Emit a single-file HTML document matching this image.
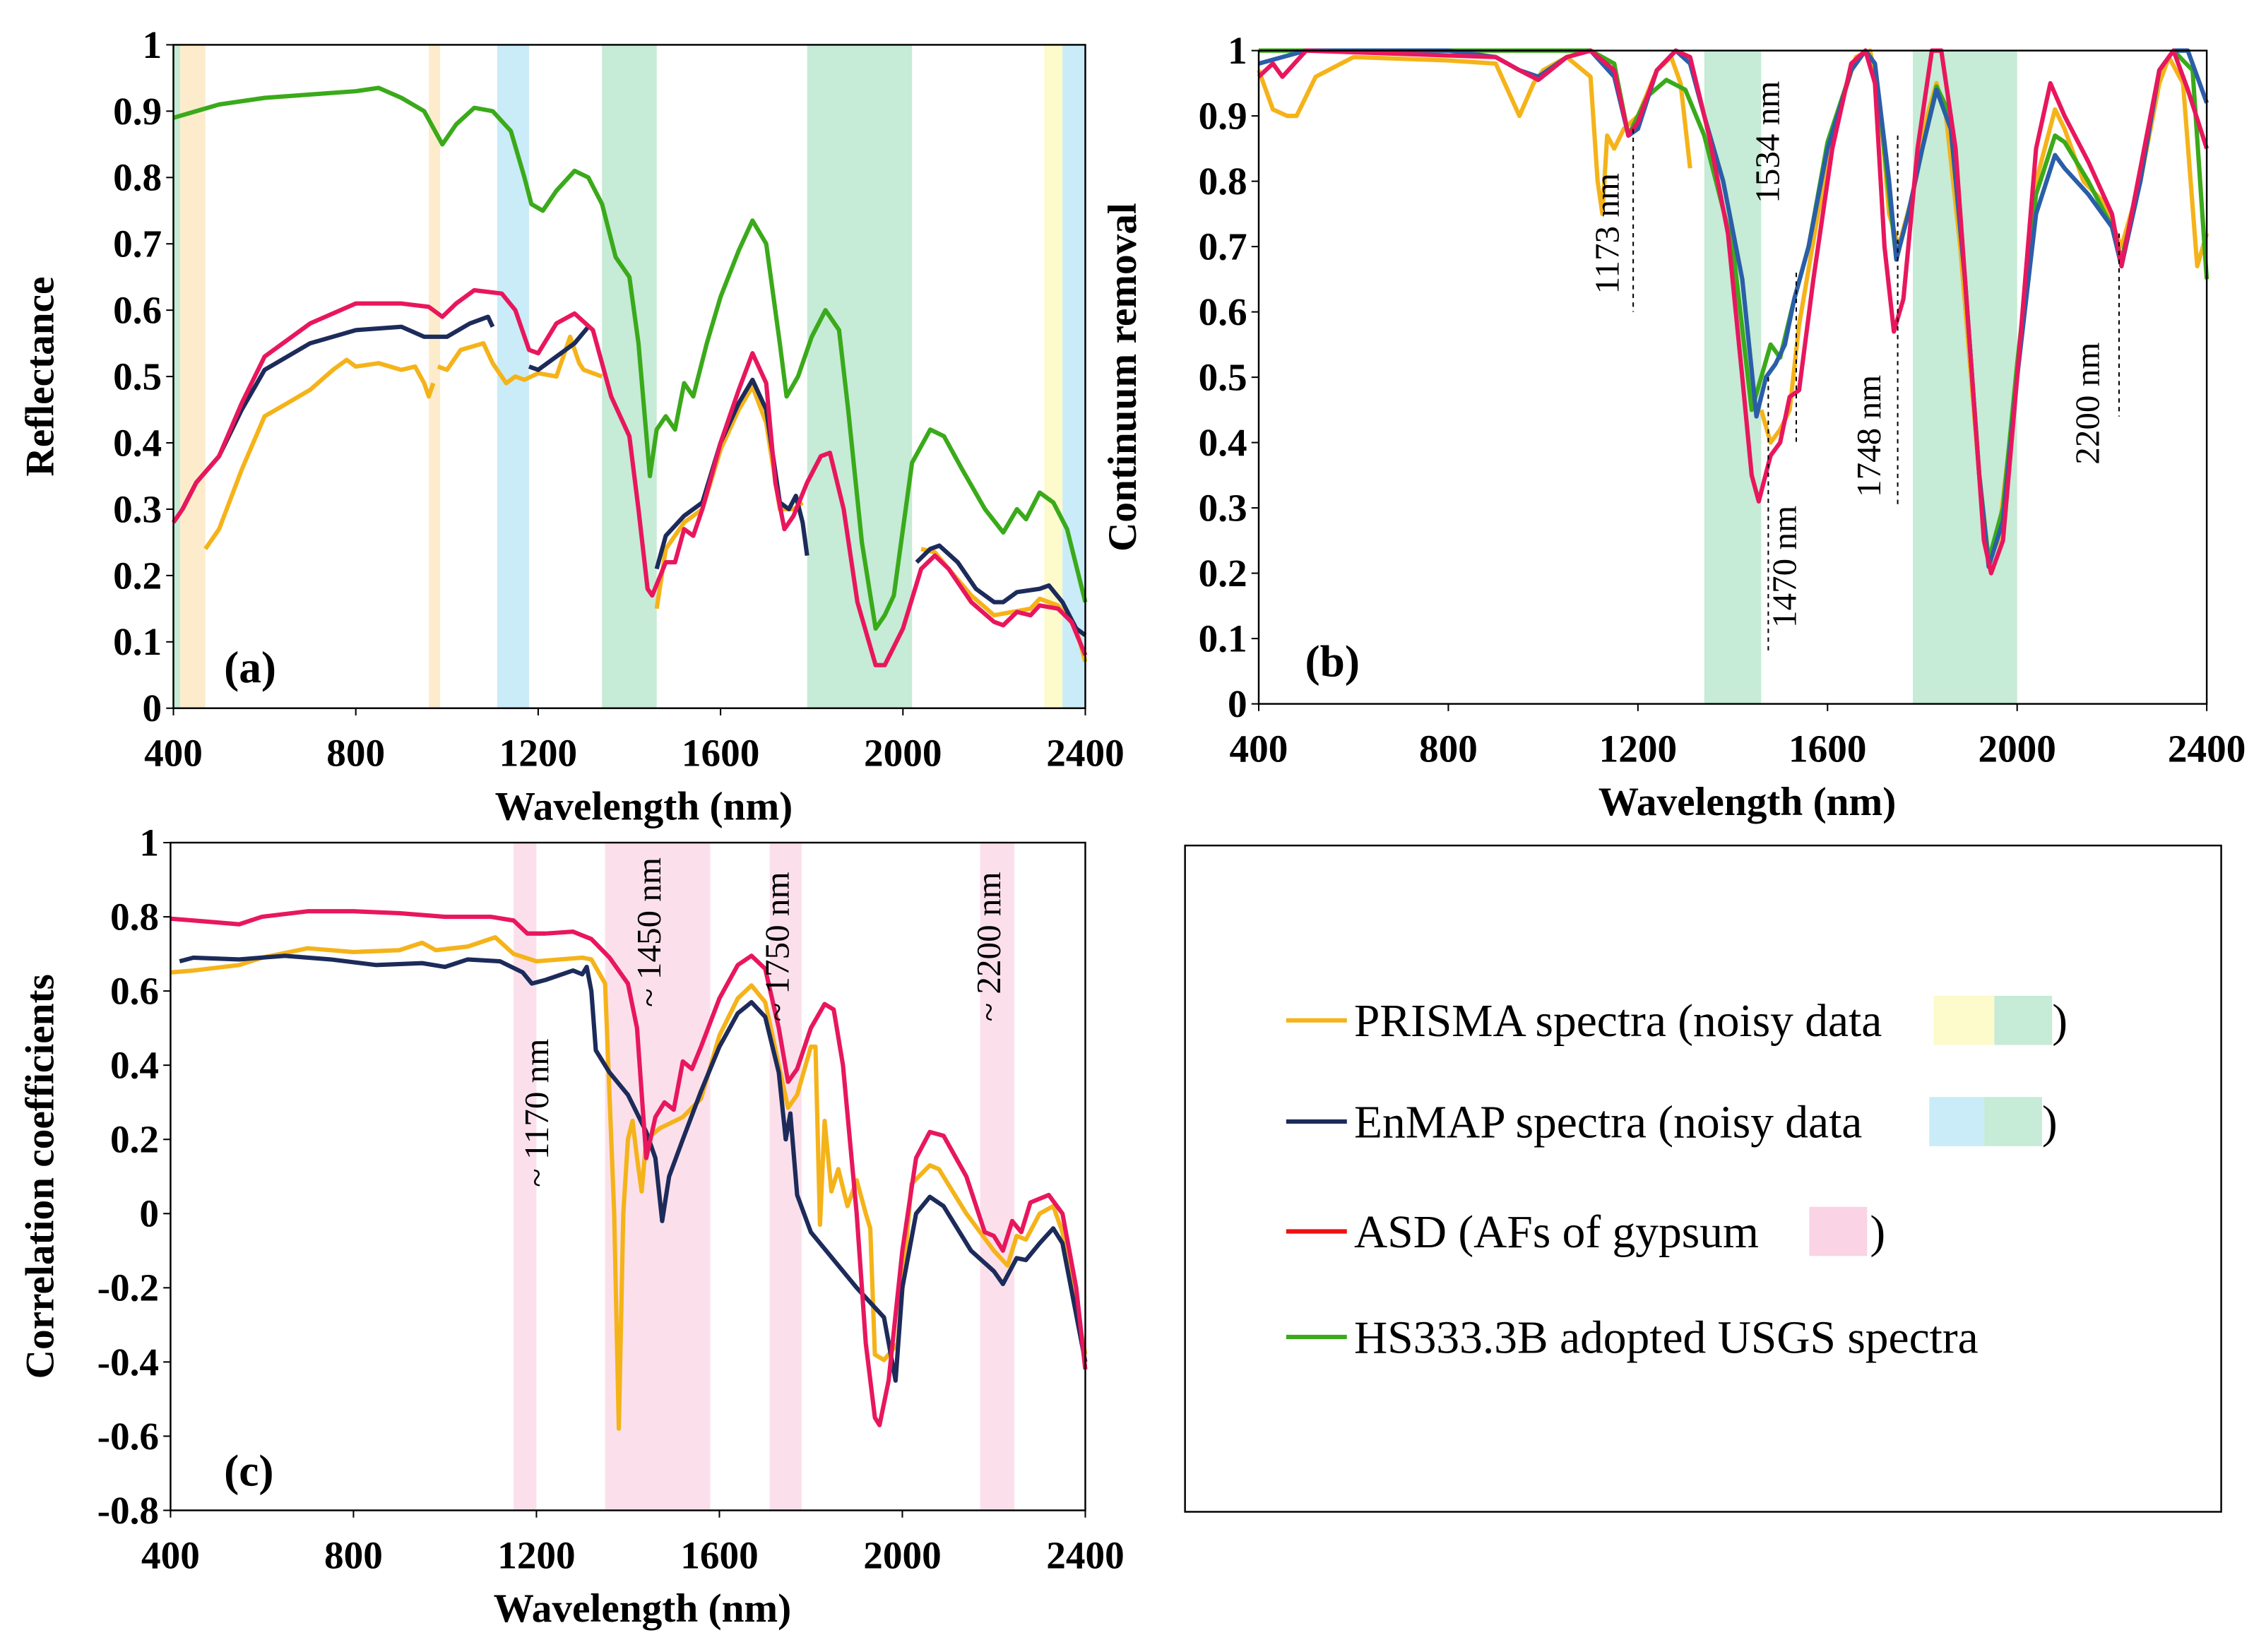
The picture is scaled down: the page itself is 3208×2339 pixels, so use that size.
<!DOCTYPE html>
<html><head><meta charset="utf-8"><style>
html,body{margin:0;padding:0;background:#fff}
svg{display:block}
svg text{font-family:"Liberation Serif","DejaVu Serif",serif}
</style></head><body>
<svg id="fig" width="3208" height="2339" viewBox="0 0 1568 1143" preserveAspectRatio="none" font-family="'Liberation Serif', serif" xmlns="http://www.w3.org/2000/svg">
<rect x="0" y="0" width="1568" height="1143" fill="#fff"/>
</svg>
<script>
// ---------- DATA ----------
const aGreenX=[400,450,500,600,700,800,850,900,950,990,1020,1060,1100,1140,1170,1185,1210,1240,1280,1310,1340,1370,1400,1420,1445,1460,1480,1500,1520,1540,1570,1600,1640,1670,1700,1730,1745,1770,1800,1830,1860,1880,1910,1940,1960,1980,2000,2020,2060,2090,2130,2180,2220,2250,2270,2300,2330,2360,2400];
const aGreenY=[0.89,0.90,0.91,0.92,0.925,0.93,0.935,0.92,0.90,0.85,0.88,0.905,0.90,0.87,0.80,0.76,0.75,0.78,0.81,0.80,0.76,0.68,0.65,0.55,0.35,0.42,0.44,0.42,0.49,0.47,0.55,0.62,0.69,0.735,0.70,0.55,0.47,0.50,0.56,0.60,0.57,0.45,0.25,0.12,0.14,0.17,0.27,0.37,0.42,0.41,0.36,0.30,0.265,0.30,0.285,0.325,0.31,0.27,0.16];
const aRedX=[400,420,450,500,550,600,700,800,900,960,990,1020,1060,1120,1150,1180,1200,1240,1280,1320,1360,1400,1420,1440,1450,1480,1500,1520,1540,1560,1600,1640,1670,1700,1720,1740,1760,1790,1820,1840,1870,1900,1940,1960,2000,2040,2070,2100,2150,2200,2220,2250,2280,2300,2340,2370,2400];
const aRedY=[0.28,0.30,0.34,0.38,0.46,0.53,0.58,0.61,0.61,0.605,0.59,0.61,0.63,0.625,0.60,0.54,0.535,0.58,0.595,0.57,0.47,0.41,0.30,0.18,0.17,0.22,0.22,0.27,0.26,0.30,0.40,0.48,0.535,0.49,0.34,0.27,0.29,0.34,0.38,0.385,0.30,0.16,0.065,0.065,0.12,0.21,0.23,0.21,0.16,0.13,0.125,0.145,0.14,0.155,0.15,0.13,0.08];
const aBlueSegX=[[420,450,500,550,600,700,800,900,950,1000,1050,1090,1100],[1180,1200,1240,1280,1310],[1460,1480,1520,1560,1600,1640,1670,1700,1730,1750,1765,1780,1790],[2030,2060,2080,2120,2160,2200,2220,2250,2300,2320,2350,2380,2400]];
const aBlueSegY=[[0.30,0.34,0.38,0.45,0.51,0.55,0.57,0.575,0.56,0.56,0.58,0.59,0.575],[0.515,0.51,0.53,0.55,0.575],[0.21,0.26,0.29,0.31,0.40,0.46,0.495,0.45,0.31,0.30,0.32,0.28,0.23],[0.22,0.24,0.245,0.22,0.18,0.16,0.16,0.175,0.18,0.185,0.16,0.12,0.11]];
const aYellowSegX=[[470,500,550,600,650,700,750,780,800,850,900,930,950,960,970],[980,1000,1030,1080,1100,1130,1150,1170,1200,1240,1270,1290,1300,1320,1340],[1460,1480,1520,1560,1600,1640,1670,1700,1730,1760,1780],[2040,2070,2100,2150,2200,2240,2280,2300,2340,2380,2400]];
const aYellowSegY=[[0.24,0.27,0.36,0.44,0.46,0.48,0.51,0.525,0.515,0.52,0.51,0.515,0.49,0.47,0.49],[0.515,0.51,0.54,0.55,0.52,0.49,0.50,0.495,0.505,0.50,0.56,0.52,0.51,0.505,0.50],[0.15,0.24,0.28,0.30,0.39,0.45,0.485,0.43,0.30,0.30,0.31],[0.24,0.235,0.21,0.17,0.14,0.145,0.15,0.165,0.155,0.12,0.07]];
const aBandStart=[400,415,960,1110,1340,1790,2310,2350];
const aBandEnd=[415,470,985,1180,1460,2020,2350,2400];
const aBandColor=["#c6ebd6","#fdeccb","#fdeccb","#c9ecf8","#c6ebd6","#c6ebd6","#fdfacb","#c9ecf8"];

const bYellowSegX=[[400,430,460,480,520,600,800,900,950,980,1000,1050,1100,1115,1125,1135,1150,1170,1200,1240,1270,1290,1310],[1460,1480,1500,1520,1540,1580,1620,1660,1690,1710,1730,1750,1780,1810,1830,1850,1880,1920,1940,1960,2000,2040,2080,2100,2140,2180,2220,2260,2300,2320,2350,2380,2400]];
const bYellowSegY=[[0.97,0.91,0.90,0.90,0.96,0.99,0.985,0.98,0.90,0.95,0.97,0.99,0.96,0.80,0.75,0.87,0.85,0.88,0.90,0.97,0.99,0.95,0.82],[0.45,0.40,0.42,0.45,0.58,0.75,0.90,0.99,1.0,0.92,0.75,0.70,0.78,0.90,0.95,0.90,0.70,0.35,0.22,0.25,0.50,0.80,0.91,0.88,0.80,0.77,0.70,0.80,0.95,0.99,0.95,0.67,0.72]];
const bBlueX=[400,450,500,800,900,950,990,1050,1100,1150,1180,1200,1240,1280,1310,1340,1380,1420,1450,1470,1490,1510,1530,1560,1600,1650,1680,1700,1730,1745,1770,1800,1830,1860,1890,1920,1940,1970,2000,2040,2080,2100,2150,2200,2220,2260,2300,2330,2360,2400];
const bBlueY=[0.98,0.99,1.0,1.0,0.99,0.97,0.96,0.99,1.0,0.96,0.87,0.88,0.97,1.0,0.98,0.90,0.80,0.65,0.44,0.50,0.52,0.55,0.62,0.70,0.85,0.97,1.0,0.98,0.80,0.68,0.75,0.85,0.94,0.88,0.65,0.35,0.21,0.28,0.50,0.75,0.84,0.82,0.78,0.73,0.67,0.80,0.97,1.0,1.0,0.92];
const bGreenX=[400,1100,1150,1180,1220,1260,1300,1340,1400,1440,1460,1480,1500,1530,1560,1600,1650,1680,1700,1730,1745,1770,1800,1830,1860,1890,1920,1940,1970,2000,2040,2080,2100,2150,2200,2220,2260,2300,2330,2370,2400];
const bGreenY=[1.0,1.0,0.98,0.87,0.93,0.955,0.94,0.87,0.70,0.45,0.50,0.55,0.53,0.62,0.70,0.86,0.97,1.0,0.98,0.78,0.68,0.75,0.85,0.945,0.90,0.65,0.35,0.22,0.30,0.52,0.78,0.87,0.86,0.80,0.73,0.68,0.80,0.97,1.0,0.97,0.65];
const bRedX=[400,430,450,500,900,950,990,1050,1100,1150,1180,1200,1240,1280,1310,1350,1390,1420,1440,1455,1480,1500,1520,1540,1570,1610,1650,1680,1700,1720,1740,1760,1790,1820,1840,1870,1900,1930,1945,1970,2000,2040,2070,2100,2150,2200,2220,2260,2300,2330,2360,2400];
const bRedY=[0.96,0.98,0.96,1.0,0.99,0.97,0.955,0.99,1.0,0.97,0.87,0.89,0.97,1.0,0.99,0.87,0.72,0.50,0.35,0.31,0.38,0.40,0.47,0.48,0.65,0.85,0.98,1.0,0.95,0.70,0.57,0.62,0.85,1.0,1.0,0.85,0.55,0.25,0.20,0.25,0.50,0.85,0.95,0.90,0.83,0.75,0.67,0.82,0.97,1.0,0.94,0.85];
const bBandStart=[1340,1780];
const bBandEnd=[1460,2000];
const bMarkX=[1190,1534,1475,1748,2215];
const bMarkTop=[0.88,0.66,0.50,0.87,0.72];
const bMarkBot=[0.60,0.40,0.08,0.30,0.44];
const bMarkLabel=["1173 nm","1534 nm","1470 nm","1748 nm","2200 nm"];
const bLabelY=[0.72,0.86,0.21,0.41,0.46];
const bLabelDx=[-10,-12,19,-12,-14];

const cRedX=[400,500,550,600,700,800,900,1000,1100,1150,1180,1220,1280,1320,1360,1400,1420,1440,1460,1480,1500,1520,1540,1560,1600,1640,1670,1700,1730,1750,1770,1800,1830,1850,1870,1900,1920,1940,1950,1970,2000,2030,2060,2090,2140,2180,2200,2220,2240,2260,2280,2320,2350,2380,2400];
const cRedY=[0.795,0.785,0.78,0.80,0.815,0.815,0.81,0.80,0.80,0.79,0.755,0.755,0.76,0.74,0.69,0.62,0.50,0.15,0.26,0.30,0.28,0.41,0.39,0.45,0.58,0.67,0.695,0.66,0.50,0.355,0.39,0.50,0.565,0.55,0.40,0.0,-0.35,-0.55,-0.57,-0.45,-0.10,0.15,0.22,0.21,0.10,-0.05,-0.06,-0.10,-0.02,-0.05,0.03,0.05,0.0,-0.2,-0.42];
const cYellowX=[400,450,550,600,700,800,900,950,980,1050,1110,1150,1200,1300,1320,1350,1370,1380,1390,1400,1410,1420,1430,1440,1470,1520,1560,1600,1640,1670,1700,1730,1750,1770,1800,1810,1820,1830,1845,1860,1880,1900,1920,1930,1940,1960,1990,2020,2060,2080,2140,2200,2230,2250,2270,2300,2330,2350,2400];
const cYellowY=[0.65,0.655,0.67,0.69,0.715,0.705,0.71,0.73,0.71,0.72,0.745,0.70,0.68,0.69,0.685,0.62,0.0,-0.58,0.0,0.20,0.25,0.15,0.06,0.20,0.23,0.26,0.31,0.48,0.58,0.615,0.57,0.40,0.285,0.32,0.45,0.45,-0.03,0.25,0.06,0.12,0.02,0.09,0.0,-0.04,-0.38,-0.395,-0.35,0.08,0.13,0.12,0.0,-0.10,-0.14,-0.06,-0.07,0.0,0.02,-0.05,-0.38];
const cBlueX=[420,450,550,650,750,850,950,1000,1050,1120,1170,1190,1220,1280,1300,1310,1320,1330,1360,1400,1440,1460,1475,1490,1520,1560,1600,1640,1670,1700,1730,1745,1755,1770,1800,1900,1960,1985,2000,2030,2060,2090,2150,2200,2220,2250,2270,2300,2330,2350,2400];
const cBlueY=[0.68,0.69,0.685,0.695,0.685,0.67,0.675,0.665,0.685,0.68,0.65,0.62,0.63,0.655,0.645,0.665,0.60,0.44,0.38,0.32,0.22,0.15,-0.02,0.10,0.20,0.33,0.45,0.54,0.57,0.53,0.38,0.20,0.27,0.05,-0.05,-0.20,-0.28,-0.45,-0.20,0.0,0.045,0.02,-0.10,-0.155,-0.19,-0.12,-0.125,-0.08,-0.04,-0.08,-0.40];
const cBandStart=[1150,1350,1710,2170];
const cBandEnd=[1200,1580,1780,2245];
const cBandLabel=["~ 1170 nm","~ 1450 nm","~ 1750 nm","~ 2200 nm"];

const xTicks=[400,800,1200,1600,2000,2400];
const aYTicks=[0,0.1,0.2,0.3,0.4,0.5,0.6,0.7,0.8,0.9,1];
const cYTicks=[-0.8,-0.6,-0.4,-0.2,0,0.2,0.4,0.6,0.8,1];

// ---------- DRAW ----------
const NS="http://www.w3.org/2000/svg";
const svg=document.getElementById('fig');
function mk(tag,attrs,parent){const e=document.createElementNS(NS,tag);for(const k in attrs)e.setAttribute(k,attrs[k]);if(tag==='text')e.setAttribute('font-family',"Liberation Serif, serif");(parent||svg).appendChild(e);return e;}
function fmt(v){if(Math.abs(v)<1e-9)return "0";return (Math.round(v*10)/10).toString();}
const COL={yellow:"#f5b31a",blue:"#1c2b5a",red:"#e8175d",green:"#3aaa1a"};

function makePanel(name,px0,px1,py0,py1,ymin,ymax){
  const g=mk('g',{});
  
  
  return {g,sx:v=>px0+(v-400)/(2000)*(px1-px0),sy:v=>py1-(v-ymin)/(ymax-ymin)*(py1-py0),px0,px1,py0,py1};
}
function band(P,a,b,color,nm){const r=mk('rect',{x:P.sx(a),y:P.py0,width:P.sx(b)-P.sx(a),height:P.py1-P.py0,fill:color},P.g);
  }
function line(P,xs,ys,color,nm,w){const d=xs.map((x,i)=>(i?'L':'M')+P.sx(x).toFixed(1)+','+P.sy(ys[i]).toFixed(1)).join('');
  const p=mk('path',{d,fill:'none',stroke:color,'stroke-width':w||3,'stroke-linejoin':'round'},P.g);
  }
function axes(P,yTicks,xTitle,yTitle,yTitleX){
  const f=mk('rect',{x:P.px0,y:P.py0,width:P.px1-P.px0,height:P.py1-P.py0,fill:'none',stroke:'#000','stroke-width':1.2},P.g);
  
  xTicks.forEach(t=>{mk('line',{x1:P.sx(t),x2:P.sx(t),y1:P.py1,y2:P.py1+5,stroke:'#000'},P.g);
    const tx=mk('text',{x:P.sx(t),y:P.py1+40,'text-anchor':'middle','font-size':27,'font-weight':'bold'},P.g);tx.textContent=t;
    });
  yTicks.forEach(t=>{mk('line',{x1:P.px0-5,x2:P.px0,y1:P.sy(t),y2:P.sy(t),stroke:'#000'},P.g);
    const tx=mk('text',{x:P.px0-8,y:P.sy(t)+9,'text-anchor':'end','font-size':27,'font-weight':'bold'},P.g);tx.textContent=fmt(t);
    });
  const xt=mk('text',{x:(P.px0+P.px1)/2+10,y:P.py1+77,'text-anchor':'middle','font-size':28,'font-weight':'bold'},P.g);xt.textContent=xTitle;
  
  const cy=(P.py0+P.py1)/2;
  const yt=mk('text',{x:yTitleX,y:cy,'text-anchor':'middle','font-size':28,'font-weight':'bold',transform:`rotate(-90 ${yTitleX} ${cy})`},P.g);yt.textContent=yTitle;
  
}
function plabel(P,txt,x,y){const t=mk('text',{x,y,'font-size':31,'font-weight':'bold'},P.g);t.textContent=txt;
  }

const A=makePanel('panel-a-reflectance',120,751,31,490,0,1);
aBandStart.forEach((s,i)=>band(A,s,aBandEnd[i],aBandColor[i],'noisy-band'));
line(A,aGreenX,aGreenY,COL.green,'series-usgs');
aYellowSegX.forEach((xs,i)=>line(A,xs,aYellowSegY[i],COL.yellow,'series-prisma'));
aBlueSegX.forEach((xs,i)=>line(A,xs,aBlueSegY[i],COL.blue,'series-enmap'));
line(A,aRedX,aRedY,COL.red,'series-asd');
axes(A,aYTicks,'Wavelength (nm)','Reflectance',37);
plabel(A,'(a)',155,472);

const B=makePanel('panel-b-continuum',871,1527,35,487,0,1);
bBandStart.forEach((s,i)=>band(B,s,bBandEnd[i],'#c6ebd6','absorption-band'));
bYellowSegX.forEach((xs,i)=>line(B,xs,bYellowSegY[i],COL.yellow,'series-prisma'));
line(B,bGreenX,bGreenY,COL.green,'series-usgs');
line(B,bBlueX,bBlueY,'#2a5ea8','series-enmap');
line(B,bRedX,bRedY,COL.red,'series-asd');
bMarkX.forEach((x,i)=>{
  const l=mk('line',{x1:B.sx(x),x2:B.sx(x),y1:B.sy(bMarkTop[i]),y2:B.sy(bMarkBot[i]),stroke:'#000','stroke-width':1,'stroke-dasharray':'3,3'},B.g);
  
  const cy=B.sy(bLabelY[i]), cx=B.sx(x)+bLabelDx[i];
  const t=mk('text',{x:cx,y:cy,'text-anchor':'middle','font-size':24,transform:`rotate(-90 ${cx} ${cy})`},B.g);t.textContent=bMarkLabel[i];
  
});
axes(B,aYTicks,'Wavelength (nm)','Continuum removal',786);
plabel(B,'(b)',903,468);

const C=makePanel('panel-c-correlation',118,751,583,1045,-0.8,1);
cBandStart.forEach((s,i)=>{band(C,s,cBandEnd[i],'#fbe0ec','gypsum-band');});
line(C,cYellowX,cYellowY,COL.yellow,'series-prisma');
line(C,cBlueX,cBlueY,COL.blue,'series-enmap');
line(C,cRedX,cRedY,COL.red,'series-asd');
const cLabY=[770,645,655,655];
const cLabDx=[8,-6,-6,-6];
cBandStart.forEach((s,i)=>{
  const cx=C.sx((s+cBandEnd[i])/2)+8+cLabDx[i], cy=cLabY[i];
  const t=mk('text',{x:cx,y:cy,'text-anchor':'middle','font-size':24,transform:`rotate(-90 ${cx} ${cy})`},C.g);t.textContent=cBandLabel[i];
  
});
axes(C,cYTicks,'Wavelength (nm)','Correlation coefficients',37);
plabel(C,'(c)',155,1028);

const L=mk('g',{});


mk('rect',{x:820,y:585,width:717,height:461,fill:'#fff',stroke:'#000','stroke-width':1.2},L);
const legY=[706,776,852,925];
const legCol=[COL.yellow,COL.blue,'#ee1111',COL.green];
const legTxt=['PRISMA spectra (noisy data','EnMAP spectra (noisy data','ASD (AFs of gypsum','HS333.3B adopted USGS spectra'];
legY.forEach((y,i)=>{
  const l=mk('line',{x1:890,x2:932,y1:y,y2:y,stroke:legCol[i],'stroke-width':3},L);
  
  const t=mk('text',{x:937,y:y+11,'font-size':32},L);t.textContent=legTxt[i];
  
});
function sw(x,w,y,c){const r=mk('rect',{x,y:y-17,width:w,height:34,fill:c},L);}
function paren(x,y){const t=mk('text',{x,y:y+11,'font-size':32},L);t.textContent=')';}
sw(1338,42,706,'#fdfacb');sw(1380,40,706,'#c6ebd6');paren(1420,706);
sw(1335,38,776,'#c9ecf8');sw(1373,40,776,'#c6ebd6');paren(1413,776);
sw(1252,40,852,'#fad3e4');paren(1294,852);
</script>
</body></html>
